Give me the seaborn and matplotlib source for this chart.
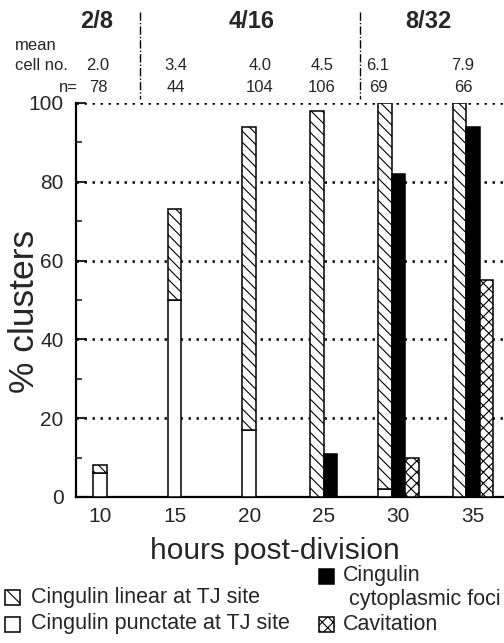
import matplotlib
matplotlib.use("Agg")
import matplotlib.pyplot as plt
import seaborn as sns
from matplotlib.patches import Rectangle
from matplotlib.lines import Line2D
from matplotlib.ticker import MultipleLocator

# ---------------- data ----------------
hours = [10, 15, 20, 25, 30, 35]
punctate = [6, 50, 17, 0, 2, 0]          # Cingulin punctate at TJ site (white, bottom)
linear = [2, 23, 77, 98, 98, 100]        # Cingulin linear at TJ site (hatched, stacked)
foci = [0, 0, 0, 11, 82, 94]             # Cingulin cytoplasmic foci (black)
cavitation = [0, 0, 0, 0, 10, 55]        # Cavitation (cross-hatched)
stages = ["2/8", "4/16", "8/32"]
mean_cell_no = ["2.0", "3.4", "4.0", "4.5", "6.1", "7.9"]
n_values = ["78", "44", "104", "106", "69", "66"]
yticks = [0, 20, 40, 60, 80, 100]
xticks = [10, 15, 20, 25, 30, 35]

# ---------------- style ----------------
sns.set_style("white")
plt.rcParams['font.family'] = ['Liberation Sans', 'DejaVu Sans']
plt.rcParams['hatch.linewidth'] = 0.8

W, H = 504, 643
fig = plt.figure(figsize=(W / 100, H / 100), dpi=100)
fig.patch.set_facecolor("white")

def fx(px):
    return px / W

def fy(py):
    return 1 - py / H

ax_left, ax_right, ax_top, ax_bottom = 76, 504, 103, 497
ax = fig.add_axes([fx(ax_left), fy(ax_bottom), (ax_right - ax_left) / W, (ax_bottom - ax_top) / H])
ax.set_facecolor("white")

bw = 0.9
edge_lw = 1.1
for i, h in enumerate(hours):
    comps = []
    if punctate[i] + linear[i] > 0:
        comps.append("stack")
    if foci[i] > 0:
        comps.append("foci")
    if cavitation[i] > 0:
        comps.append("cav")
    n = len(comps)
    for k, c in enumerate(comps):
        x = h + (k - (n - 1) / 2) * bw
        if c == "stack":
            if punctate[i] > 0:
                ax.bar(x, punctate[i], bw, facecolor="white", edgecolor="black",
                       linewidth=edge_lw, zorder=3)
            ax.bar(x, linear[i], bw, bottom=punctate[i], facecolor="white",
                   edgecolor="black", hatch="\\\\\\", linewidth=edge_lw, zorder=3)
        elif c == "foci":
            ax.bar(x, foci[i], bw, facecolor="black", edgecolor="black",
                   linewidth=edge_lw, zorder=3)
        else:
            ax.bar(x, cavitation[i], bw, facecolor="white", edgecolor="black",
                   hatch="xxx", linewidth=edge_lw, zorder=3)

px_per_hr = 74.6 / 5
ax.set_xlim(10 - (100 - ax_left) / px_per_hr, 10 + (ax_right - 100) / px_per_hr)
ax.set_ylim(0, 100)

for yv in yticks[1:]:
    ax.axhline(yv, color="black", linestyle=(0, (1, 2.2)), linewidth=1.8, zorder=1)

ax.set_yticks(yticks)
ax.yaxis.set_minor_locator(MultipleLocator(10))
ax.set_xticks(xticks)
ax.tick_params(axis="y", which="major", direction="in", length=7, width=1.5,
               labelsize=15, pad=9, left=True)
ax.tick_params(axis="y", which="minor", direction="in", length=4, width=1.2, left=True)
ax.tick_params(axis="x", which="both", length=0, labelsize=15, pad=7)

for s in ["top", "right"]:
    ax.spines[s].set_visible(False)
for s in ["left", "bottom"]:
    ax.spines[s].set_linewidth(1.6)
    ax.spines[s].set_color("black")

ax.set_xlabel("hours post-division", fontsize=21.5)
ax.xaxis.set_label_coords((275 - ax_left) / (ax_right - ax_left),
                          (ax_bottom - 537) / (ax_bottom - ax_top))
ax.set_ylabel("% clusters", fontsize=25.5, va="center")
ax.yaxis.set_label_coords((24 - ax_left) / (ax_right - ax_left),
                          (ax_bottom - 311) / (ax_bottom - ax_top))

# ---------------- header annotations ----------------
stage_x = [97, 252, 428]
for s, xp in zip(stages, stage_x):
    fig.text(fx(xp), fy(21), s, ha="center", va="center", fontsize=17, fontweight="bold")

fs_small = 12
fig.text(fx(15), fy(45), "mean", ha="left", va="center", fontsize=fs_small)
fig.text(fx(15), fy(66), "cell no.", ha="left", va="center", fontsize=fs_small)
fig.text(fx(78), fy(87), "n=", ha="right", va="center", fontsize=fs_small)
col_x = [98, 176, 260, 322, 378, 463]
for m, nv, xp in zip(mean_cell_no, n_values, col_x):
    fig.text(fx(xp), fy(66), m, ha="center", va="center", fontsize=fs_small)
    fig.text(fx(xp), fy(87), nv, ha="center", va="center", fontsize=fs_small)

for sx in [140, 360]:
    fig.add_artist(Line2D([fx(sx), fx(sx)], [fy(12), fy(99)], transform=fig.transFigure,
                          color="black", linewidth=1.0, linestyle=(0, (6, 1.5, 1, 1.5))))

# ---------------- legend (manual) ----------------
leg_fs = 15.5
sq = 15

def legend_square(xl, yc, face, hatch=None):
    r = Rectangle((fx(xl), fy(yc + sq / 2)), sq / W, sq / H, transform=fig.transFigure,
                  facecolor=face, edgecolor="black", linewidth=1.1, hatch=hatch)
    fig.add_artist(r)

legend_square(5, 597, "white", "\\\\")
fig.text(fx(31), fy(597), "Cingulin linear at TJ site", ha="left", va="center", fontsize=leg_fs)
legend_square(5, 624, "white")
fig.text(fx(31), fy(624), "Cingulin punctate at TJ site", ha="left", va="center", fontsize=leg_fs)
legend_square(319, 576, "black")
fig.text(fx(343), fy(576), "Cingulin", ha="left", va="center", fontsize=leg_fs)
fig.text(fx(343), fy(599), " cytoplasmic foci", ha="left", va="center", fontsize=leg_fs)
legend_square(319, 624, "white", "xxx")
fig.text(fx(343), fy(624), "Cavitation", ha="left", va="center", fontsize=leg_fs)

fig.savefig("out.png", dpi=100, facecolor="white")
